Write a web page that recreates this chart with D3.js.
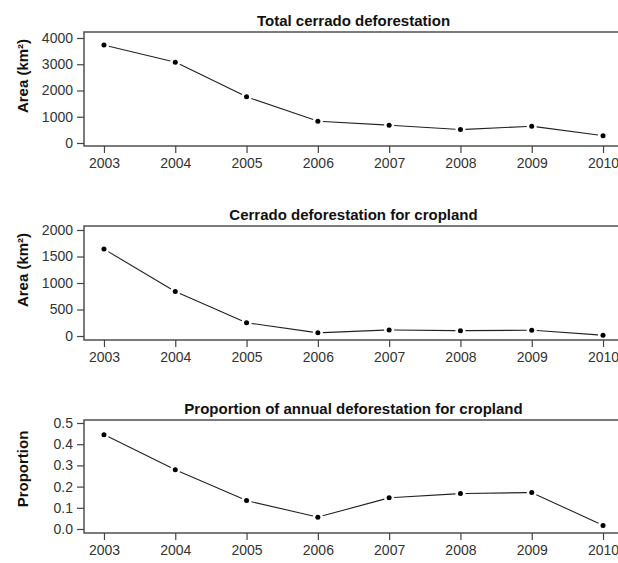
<!DOCTYPE html>
<html>
<head>
<meta charset="utf-8">
<script src="https://cdn.jsdelivr.net/npm/d3@7"></script>
<style>
  html, body { margin: 0; padding: 0; background: #fff; }
  svg { display: block; font-family: "Liberation Sans", Arial, sans-serif; }
</style>
</head>
<body>
<svg id="chart" width="618" height="563"></svg>
<script>
// ---- data ----
const years = [2003, 2004, 2005, 2006, 2007, 2008, 2009, 2010];
const totalDeforestation = [3730, 3080, 1760, 830, 680, 510, 640, 280];
const croplandDeforestation = [1640, 840, 250, 60, 115, 100, 110, 15];
const croplandProportion = [0.445, 0.28, 0.134, 0.056, 0.147, 0.167, 0.172, 0.017];
const totalTicks = [0, 1000, 2000, 3000, 4000];
const croplandTicks = [0, 500, 1000, 1500, 2000];
const proportionTicks = [0.0, 0.1, 0.2, 0.3, 0.4, 0.5];
const titles = ["Total cerrado deforestation", "Cerrado deforestation for cropland", "Proportion of annual deforestation for cropland"];
const yLabels = ["Area (km\u00B2)", "Area (km\u00B2)", "Proportion"];

// ---- layout ----
const panels = [
  { values: totalDeforestation, ticks: totalTicks, fmt: d3.format("d"), title: titles[0], ylab: yLabels[0],
    boxTop: 32, boxBottom: 146, yMax: 38, yMin: 143, ylabY: 76 },
  { values: croplandDeforestation, ticks: croplandTicks, fmt: d3.format("d"), title: titles[1], ylab: yLabels[1],
    boxTop: 226, boxBottom: 340, yMax: 230, yMin: 336, ylabY: 270 },
  { values: croplandProportion, ticks: proportionTicks, fmt: d3.format(".1f"), title: titles[2], ylab: yLabels[2],
    boxTop: 420, boxBottom: 533, yMax: 423, yMin: 529, ylabY: 469 }
];

const svg = d3.select("#chart");
const boxLeft = 84, boxRight = 623;
const x = d3.scaleLinear().domain([2002.72, 2010.28]).range([boxLeft, boxRight]);

panels.forEach(p => {
  const tickMax = p.ticks[p.ticks.length - 1];
  const y = d3.scaleLinear().domain([0, tickMax]).range([p.yMin, p.yMax]);
  const g = svg.append("g");

  // x axis
  const xAxis = d3.axisBottom(x).tickValues(years).tickFormat(d3.format("d")).tickSize(7).tickPadding(5);
  const xg = g.append("g").attr("transform", `translate(0,${p.boxBottom})`).call(xAxis);
  xg.select(".domain").remove();
  xg.selectAll("line").attr("stroke", "#444").attr("stroke-width", 1.2);
  xg.selectAll("text").attr("font-size", 14).attr("fill", "#333")
    .attr("font-family", "Liberation Sans, Arial, sans-serif");

  // y axis
  const yAxis = d3.axisLeft(y).tickValues(p.ticks).tickFormat(p.fmt).tickSize(7).tickPadding(4);
  const yg = g.append("g").attr("transform", `translate(${boxLeft},0)`).call(yAxis);
  yg.select(".domain").remove();
  yg.selectAll("line").attr("stroke", "#444").attr("stroke-width", 1.2);
  yg.selectAll("text").attr("font-size", 14).attr("fill", "#333")
    .attr("font-family", "Liberation Sans, Arial, sans-serif");

  // box
  g.append("rect")
    .attr("x", boxLeft).attr("y", p.boxTop)
    .attr("width", boxRight - boxLeft).attr("height", p.boxBottom - p.boxTop)
    .attr("fill", "none").attr("stroke", "#444").attr("stroke-width", 1.4);

  // title
  g.append("text")
    .attr("x", (boxLeft + boxRight) / 2).attr("y", p.boxTop - 12)
    .attr("text-anchor", "middle").attr("dominant-baseline", "central")
    .attr("font-size", 15).attr("font-weight", "bold").attr("fill", "#111")
    .text(p.title);

  // y label
  g.append("text")
    .attr("transform", `translate(22,${p.ylabY}) rotate(-90)`)
    .attr("text-anchor", "middle").attr("dominant-baseline", "central")
    .attr("font-size", 15).attr("font-weight", "bold").attr("fill", "#111")
    .text(p.ylab);

  // line segments with gaps (type = "b")
  const pts = years.map((yr, i) => [x(yr), y(p.values[i])]);
  const gap = 5;
  const segs = d3.pairs(pts).map(([a, b]) => {
    const dx = b[0] - a[0], dy = b[1] - a[1];
    const len = Math.hypot(dx, dy);
    const ux = dx / len, uy = dy / len;
    return [[a[0] + ux * gap, a[1] + uy * gap], [b[0] - ux * gap, b[1] - uy * gap]];
  });
  g.selectAll("line.seg").data(segs).join("line").attr("class", "seg")
    .attr("x1", d => d[0][0]).attr("y1", d => d[0][1])
    .attr("x2", d => d[1][0]).attr("y2", d => d[1][1])
    .attr("stroke", "#222").attr("stroke-width", 1.1);

  // points
  g.selectAll("circle.pt").data(p.values).join("circle").attr("class", "pt")
    .attr("cx", (d, i) => x(years[i])).attr("cy", d => y(d))
    .attr("r", 2.5).attr("fill", "#000");
});
</script>
</body>
</html>
